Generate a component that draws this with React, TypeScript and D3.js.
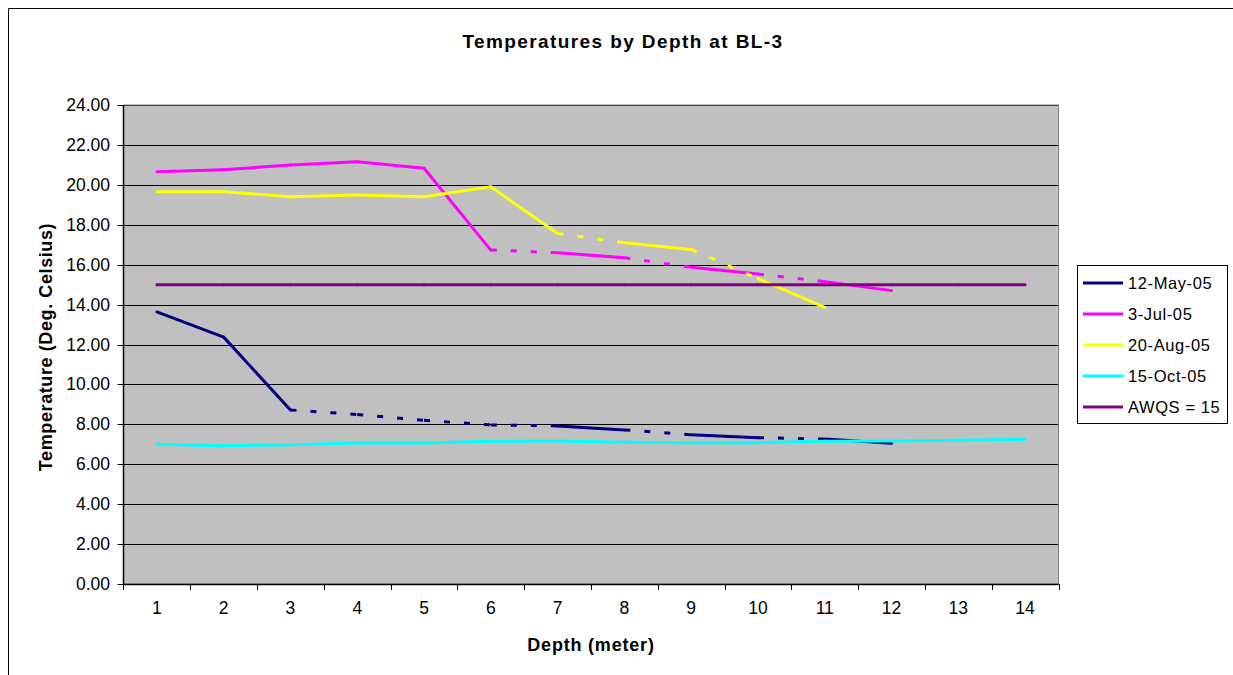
import React from 'react';
import * as d3 from 'd3';

const width = 1233;
const height = 675;

const margin = { left: 123.5, right: 1058.5, top: 105, bottom: 584 };

const depths = [1, 2, 3, 4, 5, 6, 7, 8, 9, 10, 11, 12, 13, 14];
const yTicks = [0, 2, 4, 6, 8, 10, 12, 14, 16, 18, 20, 22, 24];

const may12 = [13.63, 12.37, 8.72, 8.49, 8.2, 7.97, 7.92, 7.72, 7.48, 7.33, 7.26, 7.05];
const jul3 = [20.66, 20.76, 20.99, 21.16, 20.83, 16.73, 16.6, 16.35, 15.87, 15.53, 15.15, 14.7];
const aug20 = [19.65, 19.65, 19.4, 19.49, 19.4, 19.9, 17.56, 17.1, 16.76, 15.3, 13.86];
const oct15 = [7.0, 6.93, 6.98, 7.06, 7.06, 7.15, 7.16, 7.1, 7.08, 7.08, 7.15, 7.16, 7.2, 7.25];
const awqs = [15, 15, 15, 15, 15, 15, 15, 15, 15, 15, 15, 15, 15, 15];

// depth where a dotted segment starts (segment goes to depth + 1)
const may12Dotted = [3, 4, 5, 6, 8, 10];
const jul3Dotted = [6, 8, 10];
const aug20Dotted = [7, 9];

const seriesNames = ['12-May-05', '3-Jul-05', '20-Aug-05', '15-Oct-05', 'AWQS = 15'];
const seriesColors = ['#000080', '#FF00FF', '#FFFF00', '#00FFFF', '#800080'];
const seriesValues = [may12, jul3, aug20, oct15, awqs];
const seriesDotted = [may12Dotted, jul3Dotted, aug20Dotted, [], []];

const x = d3.scaleBand<number>()
  .domain(depths)
  .range([margin.left, margin.right]);

const y = d3.scaleLinear()
  .domain([0, 24])
  .range([margin.bottom, margin.top]);

const xc = (d: number) => (x(d) as number) + x.bandwidth() / 2;

const line = d3.line<[number, number]>()
  .x(d => xc(d[0]))
  .y(d => y(d[1]));

const font = 'Arial, "Liberation Sans", sans-serif';

const App = () => {
  const bounds = depths.map(d => x(d) as number).concat([margin.right]);
  return (
    <svg width={width} height={height} style={{ position: 'absolute', left: 0, top: 0 }} fontFamily={font}>
      <rect x={0} y={0} width={width} height={height} fill="white" />
      <path d={`M8.5,${height}V8.5H${width}`} fill="none" stroke="black" strokeWidth={1} />

      <text x={623} y={48} textAnchor="middle" fontSize={19} fontWeight="bold" letterSpacing={1.4}>
        Temperatures by Depth at BL-3
      </text>

      <rect
        x={margin.left}
        y={margin.top}
        width={margin.right - margin.left}
        height={margin.bottom - margin.top}
        fill="#C0C0C0"
      />
      {yTicks.map(t => (
        <g key={t}>
          <line x1={margin.left} x2={margin.right} y1={Math.round(y(t)) + 0.5} y2={Math.round(y(t)) + 0.5} stroke="black" strokeWidth={1} />
          <line x1={margin.left - 6} x2={margin.left} y1={Math.round(y(t)) + 0.5} y2={Math.round(y(t)) + 0.5} stroke="black" />
          <text x={110} y={y(t) + 6} textAnchor="end" fontSize={17.5}>{t.toFixed(2)}</text>
        </g>
      ))}
      <rect
        x={margin.left}
        y={margin.top}
        width={margin.right - margin.left}
        height={margin.bottom - margin.top}
        fill="none"
        stroke="#808080"
        strokeWidth={1}
      />
      <line x1={margin.left} x2={margin.left} y1={margin.top} y2={margin.bottom} stroke="black" strokeWidth={1.5} />
      <line x1={margin.left} x2={margin.right} y1={margin.bottom + 0.5} y2={margin.bottom + 0.5} stroke="black" strokeWidth={1.5} />
      {bounds.map((b, i) => (
        <line key={i} x1={Math.round(b) + 0.5} x2={Math.round(b) + 0.5} y1={margin.bottom} y2={margin.bottom + 6} stroke="black" />
      ))}
      {depths.map(d => (
        <text key={d} x={xc(d)} y={614} textAnchor="middle" fontSize={17.5}>{d}</text>
      ))}

      {seriesValues.map((vals, si) => (
        <g key={si}>
          {vals.slice(1).map((v, i) => {
            const seg: [number, number][] = [[depths[i], vals[i]], [depths[i + 1], v]];
            const dotted = seriesDotted[si].includes(depths[i]);
            return (
              <path
                key={i}
                d={line(seg) as string}
                fill="none"
                stroke={seriesColors[si]}
                strokeWidth={3}
                strokeDasharray={dotted ? '6,14' : undefined}
                strokeLinecap={dotted ? 'butt' : 'round'}
              />
            );
          })}
        </g>
      ))}

      <text x={591} y={651} textAnchor="middle" fontSize={18} fontWeight="bold" letterSpacing={0.8}>Depth (meter)</text>
      <text transform="translate(52,347) rotate(-90)" textAnchor="middle" fontSize={18} fontWeight="bold" letterSpacing={0.6}>
        Temperature (Deg. Celsius)
      </text>

      <rect x={1077.5} y={265.5} width={150} height={158} fill="white" stroke="black" strokeWidth={1} />
      {seriesNames.map((n, i) => {
        const ly = 283 + i * 31;
        return (
          <g key={n}>
            <line x1={1083} x2={1123} y1={ly} y2={ly} stroke={seriesColors[i]} strokeWidth={3} />
            <text x={1128} y={ly + 6} fontSize={16.5} letterSpacing={0.6}>{n}</text>
          </g>
        );
      })}
    </svg>
  );
};

export default App;
